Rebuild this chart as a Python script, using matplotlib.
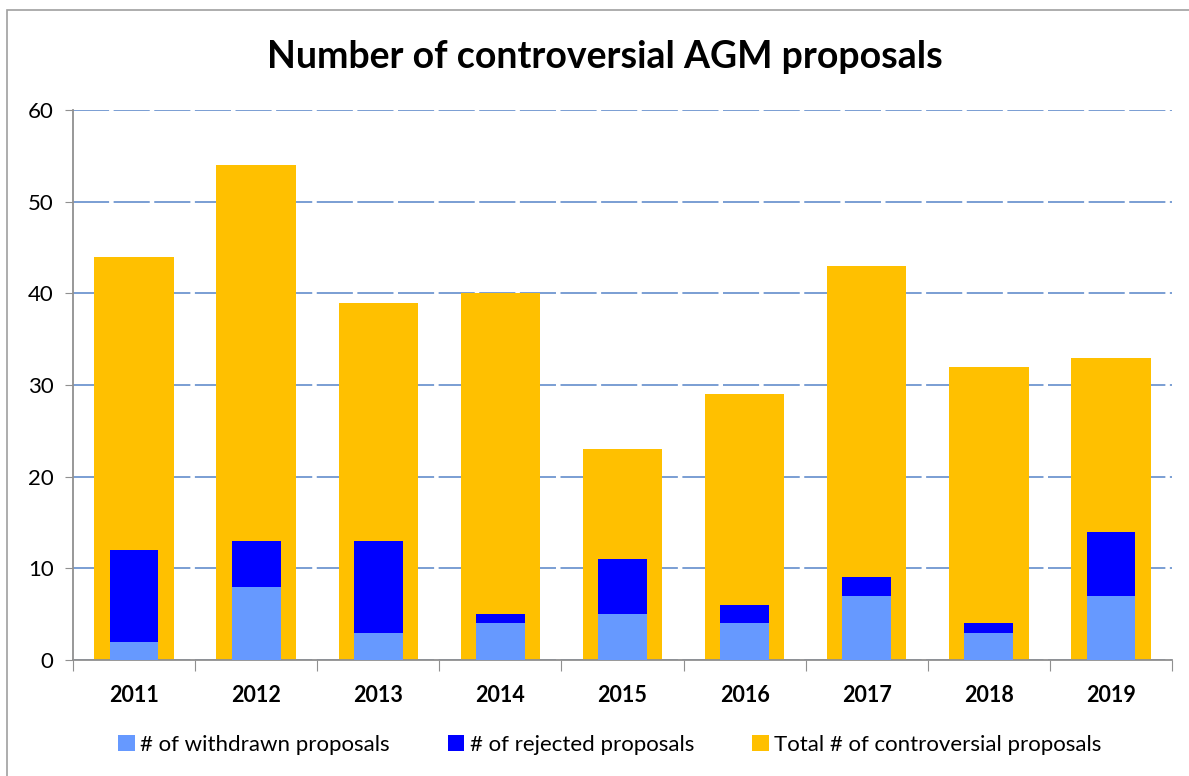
import matplotlib.pyplot as plt
import numpy as np
from matplotlib.patches import Rectangle

plt.rcParams['font.family'] = ['Lato', 'DejaVu Sans']

years = ["2011", "2012", "2013", "2014", "2015", "2016", "2017", "2018", "2019"]
total = [44, 54, 39, 40, 23, 29, 43, 32, 33]
withdrawn = [2, 8, 3, 4, 5, 4, 7, 3, 7]
rejected = [10, 5, 10, 1, 6, 2, 2, 1, 7]

x = np.arange(len(years))

fig = plt.figure(figsize=(11.89, 7.76), dpi=100)
ax = fig.add_axes([73 / 1189, 1 - 660 / 776, (1172 - 73) / 1189, 550 / 776])

# outer frame of the chart area
fig.patches.append(Rectangle((7 / 1189, -0.1), 1.2, 1 - 10 / 776 + 0.1,
                             transform=fig.transFigure, fill=False,
                             edgecolor="#a0a0a0", linewidth=1.2))

ax.bar(x, total, width=0.65, color="#ffc000", zorder=2,
       label="Total # of controversial proposals")
ax.bar(x, withdrawn, width=0.4, color="#6699ff", zorder=3,
       label="# of withdrawn proposals")
ax.bar(x, rejected, width=0.4, bottom=withdrawn, color="#0000ff", zorder=3,
       label="# of rejected proposals")

ax.set_xlim(-0.5, len(years) - 0.5)
ax.set_ylim(0, 60)
ax.set_yticks(range(0, 61, 10))
ax.yaxis.grid(True, color="#7096d0", linestyle=(0, (20, 2.5)), linewidth=1.3, zorder=1)
ax.set_axisbelow(True)

# ticks between categories on x
ax.set_xticks(np.arange(-0.5, len(years), 1))
ax.set_xticklabels([])
ax.set_xticks(x, minor=True)
ax.set_xticklabels(years, minor=True, fontsize=15.5, fontweight="bold")
ax.tick_params(axis="x", which="minor", length=0, pad=18)
ax.tick_params(axis="x", which="major", length=8, color="#909090", direction="out")
ax.tick_params(axis="y", length=6, color="#909090", labelsize=16, pad=8)

for s in ["top", "right"]:
    ax.spines[s].set_visible(False)
for s in ["left", "bottom"]:
    ax.spines[s].set_color("#909090")
    ax.spines[s].set_linewidth(1.3)

fig.text(605 / 1189, 1 - 57 / 776, "Number of controversial AGM proposals",
         ha="center", va="center", fontsize=27, fontweight="bold")

h, l = ax.get_legend_handles_labels()
order = [1, 2, 0]
fig.legend([h[i] for i in order], [l[i] for i in order], loc="center",
           bbox_to_anchor=(610 / 1189, 1 - 745 / 776), ncol=3, frameon=False,
           fontsize=16, handlelength=0.75, handleheight=0.75, handletextpad=0.25,
           columnspacing=2.6)

fig.savefig("out.png", dpi=100)
